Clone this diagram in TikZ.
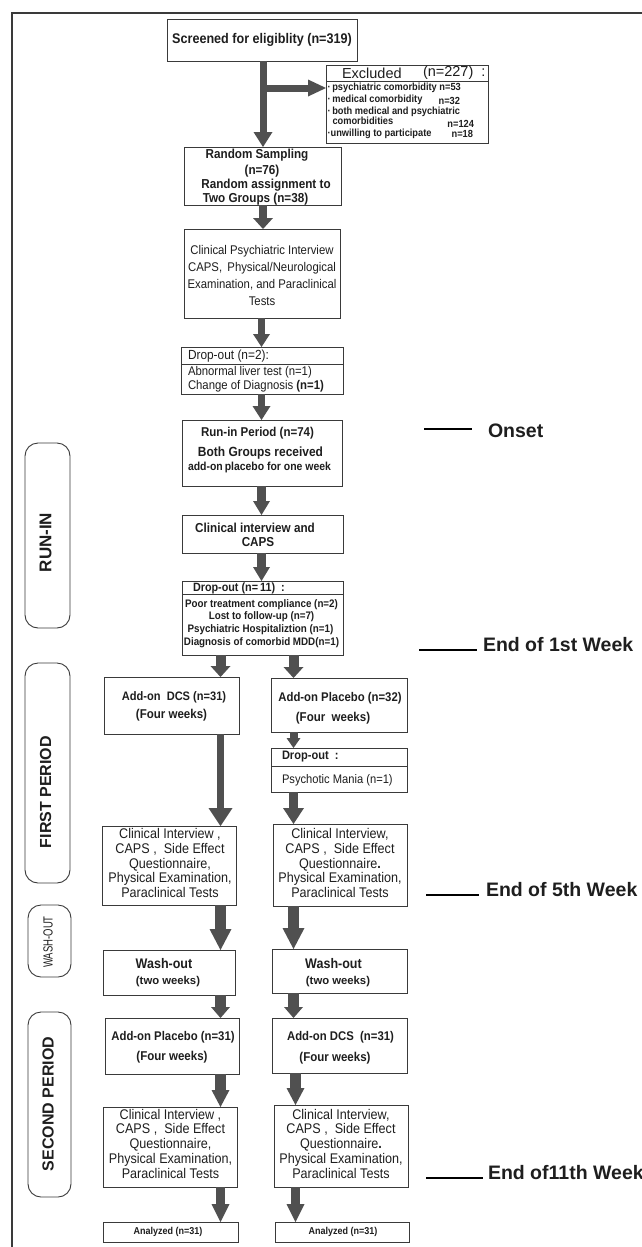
\documentclass[tikz,border=0pt]{standalone}
\usepackage{fontspec}
\setmainfont{Liberation Sans}
\newfontfamily\cn[FakeStretch=0.9]{Liberation Sans}
\newfontfamily\cnw[FakeStretch=0.72]{Liberation Sans}
\usetikzlibrary{arrows.meta}
\definecolor{bord}{HTML}{3A3A3A}
\definecolor{arrg}{HTML}{505050}
\definecolor{ink}{HTML}{1E1E1E}
\newcommand\fsl[2]{\fontsize{#1}{#2}\selectfont}
\begin{document}
\begin{tikzpicture}[x=1pt,y=-1pt,
  bx/.style 2 args={draw=bord,line width=0.9pt,fill=white,inner sep=0pt,outer sep=0pt,minimum width=#1pt,minimum height=#2pt},
  lbl/.style={inner sep=0pt,outer sep=0pt,text=ink},
  sepl/.style={draw=bord,line width=0.9pt},
  blkarr/.style n args={3}{draw=arrg,line width=#1pt,-{Triangle[width=#2pt,length=#3pt,line width=0pt]}},
  sidebox/.style 2 args={draw=bord,line width=0.9pt,rounded corners=13pt,inner sep=0pt,outer sep=0pt,minimum width=#1pt,minimum height=#2pt},
  wkline/.style={draw=black,line width=2.4pt},
  frame/.style={draw=bord,line width=1.5pt},
  hb/.style={lbl,font={\cn\bfseries\fsl{#1}{#1}}},
  hr/.style={lbl,font={\cn\fsl{#1}{#1}}},
  wk/.style={lbl,anchor=west,font={\bfseries\fsl{19.5}{20}}}
]
\useasboundingbox (0,0) rectangle (642,1247);
\fill[white] (0,0) rectangle (642,1247);
\draw[frame] (12,1247) -- (12,13) -- (642,13);

% column coordinates
\coordinate (xm) at (263,0);
\coordinate (xm2) at (261.5,0);
\coordinate (xl) at (220.5,0);
\coordinate (xr) at (293.5,0);
\coordinate (xr2) at (295.5,0);

% ---------- boxes ----------
\node[bx={190}{42}] (scr) at (262,40) {};
\node[hb=14] (scrt) at (262,40) {Screened for eligiblity (n=319)};

\node[bx={162}{78}] (excl) at (407,104) {};
\draw[sepl] ([yshift=-16pt]excl.north west) -- ([yshift=-16pt]excl.north east);
\node[lbl,anchor=west,font={\fsl{14.5}{15}}] (exh1) at (342,73) {Excluded};
\node[lbl,anchor=west,font={\fsl{14.5}{15}}] (exh2) at (423,73) {(n=227)\ \ :};
\node[hb=10.3,anchor=west] (ex1) at (327.5,88) {·\,psychiatric comorbidity n=53};
\node[hb=10.3,anchor=west] (ex2) at (327.5,99.5) {·\,medical comorbidity};
\node[hb=10.3,anchor=east] (ex2n) at (460,100.5) {n=32};
\node[hb=10.3,anchor=west] (ex3) at (327.5,112) {·\,both medical and psychiatric};
\node[hb=10.3,anchor=west] (ex3b) at (332.5,121) {comorbidities};
\node[hb=10.3,anchor=east] (ex3n) at (474,124) {n=124};
\node[hb=10.3,anchor=west] (ex4) at (327.5,134) {·unwilling to participate};
\node[hb=10.3,anchor=east] (ex4n) at (473,134) {n=18};

\node[bx={157}{58}] (rand) at (262.5,176) {};
\node[hb=13] (rand1) at (257,155.5) {Random Sampling};
\node[hb=13] (rand2) at (262,171) {(n=76)};
\node[hb=13] (rand3) at (266,185) {Random assignment to};
\node[hb=13] (rand4) at (255.5,199.5) {Two Groups (n=38)};

\node[bx={156}{89}] (cpi) at (262,273.5) {};
\node[lbl,align=center,font={\cn\fsl{12.6}{17}}] (cpit) at (262,275) {Clinical Psychiatric Interview\\CAPS,\ \,Physical/Neurological\\Examination, and Paraclinical\\Tests};

\node[bx={162}{47}] (drop2) at (262,370.5) {};
\draw[sepl] ([yshift=-17pt]drop2.north west) -- ([yshift=-17pt]drop2.north east);
\node[hr=13.2,anchor=west] (d2h) at (188,356) {Drop-out (n=2):};
\node[hr=12.6,anchor=west] (d21) at (188,372) {Abnormal liver test (n=1)};
\node[hr=12.6,anchor=west] (d22) at (188,386) {Change of Diagnosis \textbf{(n=1)}};

\node[bx={160}{66}] (runin) at (262,453) {};
\node[hb=12.8] (run1) at (257.5,433.5) {Run-in Period (n=74)};
\node[hb=13.3] (run2) at (260.5,453) {Both Groups received};
\node[lbl,font={\cn\bfseries\fsl{11.6}{12}}] (run3) at (259.5,467) {add-on\,placebo for one week};

\node[bx={161}{38}] (cia) at (262.5,534) {};
\node[hb=13] (cia1) at (255,528) {Clinical interview and};
\node[hb=13] (cia2) at (258,542) {CAPS};

\node[bx={161}{74}] (drop11) at (262.5,618) {};
\draw[sepl] ([yshift=-13pt]drop11.north west) -- ([yshift=-13pt]drop11.north east);
\node[hb=12,anchor=west] (d11h) at (193,588) {Drop-out (n=\,11)\ \ :};
\node[hb=10.9] (d111) at (261.5,605) {Poor treatment compliance (n=2)};
\node[hb=10.9] (d112) at (261.5,617) {Lost to follow-up (n=7)};
\node[hb=10.9] (d113) at (260.5,629.5) {Psychiatric Hospitaliztion (n=1)};
\node[hb=10.9] (d114) at (261.5,643) {Diagnosis of comorbid MDD(n=1)};

% first period
\node[bx={135}{57}] (dcs) at (171.5,705.5) {};
\node[hb=12.3] (dcs1) at (174,697) {Add-on\ \ DCS (n=31)};
\node[hb=12.8] (dcs2) at (171.5,715) {(Four weeks)};

\node[bx={136}{54}] (plc) at (339,705) {};
\node[hb=12.6] (plc1) at (340,698) {Add-on Placebo (n=32)};
\node[hb=12.8] (plc2) at (333,718) {(Four\ \ weeks)};

\node[bx={136}{44}] (drop3) at (339,770) {};
\draw[sepl] ([yshift=-18pt]drop3.north west) -- ([yshift=-18pt]drop3.north east);
\node[hb=12.3,anchor=west] (d3h) at (282,757) {Drop-out\ \ :};
\node[hr=12.4,anchor=west] (d31) at (282,780) {Psychotic Mania (n=1)};

\node[bx={134}{79}] (cl1l) at (169,865.5) {};
\node[lbl,align=center,font={\cn\fsl{14}{14.75}}] (cl1lt) at (170,863) {Clinical Interview ,\\CAPS ,\ \ Side Effect\\Questionnaire,\\Physical Examination,\\Paraclinical Tests};

\node[bx={134}{82}] (cl1r) at (340,865) {};
\node[lbl,align=center,font={\cn\fsl{14}{14.75}}] (cl1rt) at (340,863) {Clinical Interview,\\CAPS ,\ \ Side Effect\\Questionnaire\textbf{.}\\Physical Examination,\\Paraclinical Tests};

% wash-out
\node[bx={132}{45}] (washl) at (169,972.5) {};
\node[hb=13.9] (wl1) at (164,964) {Wash-out};
\node[lbl,font={\bfseries\fsl{11.3}{12}}] (wl2) at (168,982) {(two weeks)};

\node[bx={135}{44}] (washr) at (339.5,971) {};
\node[hb=13.9] (wr1) at (333.5,964) {Wash-out};
\node[lbl,font={\bfseries\fsl{11.3}{12}}] (wr2) at (338,982) {(two weeks)};

% second period
\node[bx={134}{56}] (secl) at (172,1046) {};
\node[hb=12.6] (sl1) at (173,1037) {Add-on Placebo (n=31)};
\node[hb=12.8] (sl2) at (172,1057) {(Four weeks)};

\node[bx={135}{55}] (secr) at (339.5,1045.5) {};
\node[hb=12.6] (sr1) at (340.5,1037) {Add-on DCS\ \ (n=31)};
\node[hb=12.8] (sr2) at (335,1058) {(Four weeks)};

\node[bx={134}{80}] (cl2l) at (170,1147) {};
\node[lbl,align=center,font={\cn\fsl{14}{14.75}}] (cl2lt) at (170.5,1143.5) {Clinical Interview ,\\CAPS ,\ \ Side Effect\\Questionnaire,\\Physical Examination,\\Paraclinical Tests};

\node[bx={134}{82}] (cl2r) at (341,1146) {};
\node[lbl,align=center,font={\cn\fsl{14}{14.75}}] (cl2rt) at (341,1143.5) {Clinical Interview,\\CAPS ,\ \ Side Effect\\Questionnaire\textbf{.}\\Physical Examination,\\Paraclinical Tests};

\node[bx={135}{20}] (anl) at (170.5,1232) {};
\node[hb=10] (anlt) at (168,1232) {Analyzed (n=31)};
\node[bx={134}{20}] (anr) at (342,1232) {};
\node[hb=10] (anrt) at (343,1232) {Analyzed (n=31)};

% ---------- arrows ----------
\coordinate (br) at (263,88);
\draw[blkarr={7}{19}{15}] (scr.south -| xm) -- (rand.north -| xm);
\draw[blkarr={7}{17}{18}] (br) -- (br -| excl.west);
\draw[blkarr={8}{20}{11}] (rand.south -| xm) -- (cpi.north -| xm);
\draw[blkarr={7.5}{17}{13}] (cpi.south -| xm2) -- (drop2.north -| xm2);
\draw[blkarr={7.5}{18}{14}] (drop2.south -| xm2) -- (runin.north -| xm2);
\draw[blkarr={8.5}{17}{14}] (runin.south -| xm2) -- (cia.north -| xm2);
\draw[blkarr={8.5}{17}{14}] (cia.south -| xm2) -- (drop11.north -| xm2);
\draw[blkarr={10}{20}{11}] (drop11.south -| xl) -- (dcs.north -| xl);
\draw[blkarr={10}{20}{11}] (drop11.south -| xr) -- (plc.north -| xr);
\draw[blkarr={7.5}{24}{18}] (dcs.south -| xl) -- (cl1l.north -| xl);
\draw[blkarr={8}{14}{10}] (plc.south -| xr) -- (drop3.north -| xr);
\draw[blkarr={9}{21}{16}] (drop3.south -| xr) -- (cl1r.north -| xr);
\draw[blkarr={11}{22}{21}] (cl1l.south -| xl) -- (washl.north -| xl);
\draw[blkarr={11}{22}{21}] (cl1r.south -| xr) -- (washr.north -| xr);
\draw[blkarr={11}{19}{11}] (washl.south -| xl) -- (secl.north -| xl);
\draw[blkarr={11}{19}{11}] (washr.south -| xr) -- (secr.north -| xr);
\draw[blkarr={10.5}{18}{17}] (secl.south -| xl) -- (cl2l.north -| xl);
\draw[blkarr={10.5}{18}{17}] (secr.south -| xr2) -- (cl2r.north -| xr2);
\draw[blkarr={9.5}{18}{18}] (cl2l.south -| xl) -- (anl.north -| xl);
\draw[blkarr={9.5}{18}{18}] (cl2r.south -| xr2) -- (anr.north -| xr2);

% ---------- side labels ----------
\node[sidebox={45}{185}] (srun) at (47.5,535.5) {};
\node[lbl,rotate=90,font={\bfseries\fsl{17}{17}}] (sruntx) at (45.5,542.5) {RUN-IN};
\node[sidebox={45}{220}] (sfirst) at (47.5,773) {};
\node[lbl,rotate=90,font={\bfseries\fsl{16}{16}}] (sfirsttx) at (45.5,792) {FIRST PERIOD};
\node[sidebox={43}{72}] (swash) at (49.5,941) {};
\node[lbl,rotate=90,font={\cnw\fsl{13.2}{13}}] (swashtx) at (48,942) {WASH-OUT};
\node[sidebox={43}{185}] (ssec) at (49.5,1104.5) {};
\node[lbl,rotate=90,font={\bfseries\fsl{16}{16}}] (ssectx) at (48,1104) {SECOND PERIOD};

% ---------- week markers ----------
\node[wk] (w0) at (488,431) {Onset};
\coordinate (w0a) at (424,429);
\draw[wkline] (w0a) -- ([xshift=-16pt]w0.west |- w0a);
\node[wk] (w1) at (483,645) {End of 1st Week};
\coordinate (w1a) at (419,650);
\draw[wkline] (w1a) -- ([xshift=-6pt]w1.west |- w1a);
\node[wk] (w5) at (486,890) {End of 5th Week};
\coordinate (w5a) at (426,895);
\draw[wkline] (w5a) -- ([xshift=-7pt]w5.west |- w5a);
\node[wk] (w11) at (488,1173) {End of11th Week};
\coordinate (w11a) at (426,1178);
\draw[wkline] (w11a) -- ([xshift=-5pt]w11.west |- w11a);
\end{tikzpicture}
\end{document}
